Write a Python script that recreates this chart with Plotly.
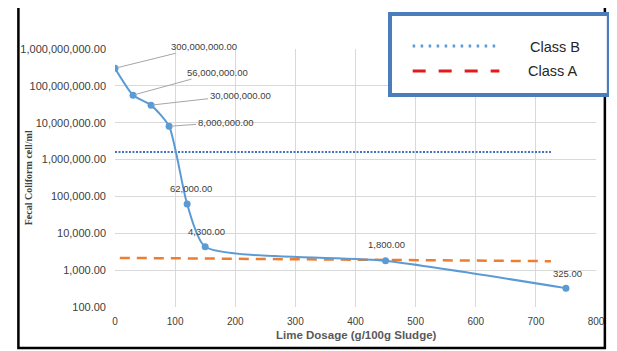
import math
import plotly.graph_objects as go

# ---- data ----
dosage = [0, 30, 60, 90, 120, 150, 450, 750]
coliform = [300000000, 56000000, 30000000, 8000000, 62000, 4300, 1800, 325]
point_labels = ["300,000,000.00", "56,000,000.00", "30,000,000.00", "8,000,000.00",
                "62,000.00", "4,300.00", "1,800.00", "325.00"]
classB_x = [0, 725]
classB_y = [1600000, 1600000]
classA_x = [8, 725]
classA_y = [2150, 1750]
y_tickvals = [1e2, 1e3, 1e4, 1e5, 1e6, 1e7, 1e8, 1e9]
y_ticktext = ["100.00", "1,000.00", "10,000.00", "100,000.00", "1,000,000.00",
              "10,000,000.00", "100,000,000.00", "1,000,000,000.00"]
x_tickvals = [0, 100, 200, 300, 400, 500, 600, 700, 800]

# label offsets (pixels) : (ax, ay, arrow)
label_offsets = [(89, -22, True), (84, -23, True), (89, -10, True), (56, -4, True),
                 (4, -16, False), (1, -15, False), (1, -16, False), (2, -15, False)]

# The page body has an 8px margin, so the figure is 8px smaller and
# positions below are given in window pixels and converted to paper units.
PL, PR, PT, PB = 110, 598, 49, 307  # plot area in window pixels


def px(X):
    return (X - PL) / (PR - PL)


def py(Y):
    return (PB - Y) / (PB - PT)


fig = go.Figure()
fig.add_trace(go.Scatter(x=classB_x, y=classB_y, mode="lines",
                         line=dict(color="#4472C4", width=2, dash="2px,1.5px"),
                         showlegend=False, hoverinfo="skip"))
fig.add_trace(go.Scatter(x=classA_x, y=classA_y, mode="lines",
                         line=dict(color="#ED7D31", width=2.5, dash="10px,7px"),
                         showlegend=False, hoverinfo="skip"))
fig.add_trace(go.Scatter(x=dosage, y=coliform, mode="lines+markers",
                         line=dict(color="#5B9BD5", width=2, shape="spline", smoothing=0.6),
                         marker=dict(color="#5B9BD5", size=7),
                         showlegend=False))

lab_font = dict(family="Liberation Sans, Arial, sans-serif", size=9.5, color="#404040")
for xv, yv, txt, (ax, ay, arr) in zip(dosage, coliform, point_labels, label_offsets):
    ly = math.log10(yv)
    if arr:
        fig.add_annotation(x=xv, y=ly, xref="x", yref="y", text=txt, showarrow=True,
                           arrowhead=0, arrowwidth=1, arrowcolor="#A6A6A6",
                           ax=ax, ay=ay, font=lab_font, standoff=2)
    else:
        fig.add_annotation(x=xv, y=ly, xref="x", yref="y", text=txt, showarrow=False,
                           xshift=ax, yshift=-ay, font=lab_font)

# axis titles
fig.add_annotation(text="<b>Fecal Coliform cell/ml</b>", xref="paper", yref="paper",
                   x=px(22), y=py(178), textangle=-90, showarrow=False,
                   font=dict(family="Liberation Serif, Times New Roman, serif", size=10, color="#404040"),
                   xanchor="center", yanchor="middle")
fig.add_annotation(text="<b>Lime Dosage (g/100g Sludge)</b>", xref="paper", yref="paper",
                   x=px(355), y=py(335), showarrow=False,
                   font=dict(family="Liberation Sans, Arial, sans-serif", size=11.5, color="#595959"),
                   xanchor="center", yanchor="middle")

# outer border
fig.add_shape(type="rect", xref="paper", yref="paper",
              x0=px(12), x1=px(607), y0=py(348), y1=py(5),
              line=dict(color="black", width=2.5), layer="above")
# legend box
fig.add_shape(type="rect", xref="paper", yref="paper",
              x0=px(389), x1=px(611), y0=py(95), y1=py(14),
              line=dict(color="#4A7EBB", width=4), fillcolor="white", layer="above")
fig.add_shape(type="line", xref="paper", yref="paper",
              x0=px(412), x1=px(500), y0=py(46), y1=py(46),
              line=dict(color="#5B9BD5", width=3, dash="2.5px,5.5px"), layer="above")
fig.add_shape(type="line", xref="paper", yref="paper",
              x0=px(412), x1=px(500), y0=py(71), y1=py(71),
              line=dict(color="#E31A1C", width=3, dash="13px,13px"), layer="above")
leg_font = dict(family="Liberation Sans, Arial, sans-serif", size=14.5, color="#262626")
fig.add_annotation(text="Class B", xref="paper", yref="paper", x=px(584),
                   y=py(47), showarrow=False, xanchor="right", yanchor="middle", font=leg_font)
fig.add_annotation(text="Class A", xref="paper", yref="paper", x=px(581),
                   y=py(71), showarrow=False, xanchor="right", yanchor="middle", font=leg_font)

ytick_font = dict(family="Liberation Sans, Arial, sans-serif", size=11, color="#404040")
xtick_font = dict(family="Liberation Sans, Arial, sans-serif", size=10, color="#404040")
fig.update_xaxes(range=[0, 800], tickvals=x_tickvals, showgrid=True, gridcolor="#D9D9D9",
                 gridwidth=1, zeroline=False, showline=False, ticks="", ticklabelstandoff=7,
                 tickfont=xtick_font)
fig.update_yaxes(type="log", range=[2, 9], tickvals=y_tickvals, ticktext=y_ticktext,
                 showgrid=True, gridcolor="#D9D9D9", gridwidth=1, zeroline=False,
                 showline=False, ticks="", ticklabelstandoff=8, tickfont=ytick_font)
fig.update_layout(width=609, height=343,
                  margin=dict(l=PL - 8, r=609 - (PR - 8), t=PT - 8, b=343 - (PB - 8)),
                  plot_bgcolor="white", paper_bgcolor="white")
fig.write_html("out.html")
